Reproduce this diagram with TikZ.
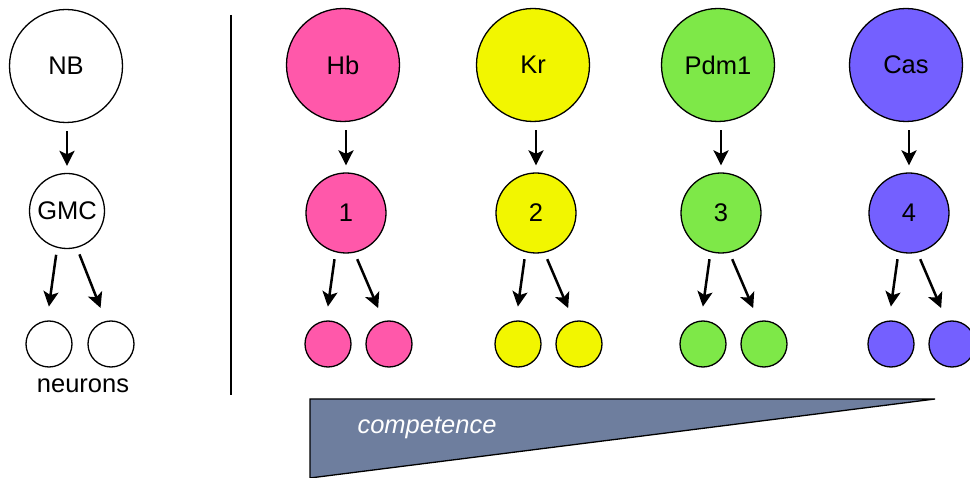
\documentclass[tikz,border=0pt]{standalone}
\usepackage{fontspec}
\setmainfont{Liberation Sans}
\usetikzlibrary{arrows.meta}
\definecolor{hbcol}{RGB}{255,88,170}
\definecolor{krcol}{RGB}{242,246,0}
\definecolor{pdmcol}{RGB}{126,232,72}
\definecolor{cascol}{RGB}{116,96,255}
\definecolor{wedge}{RGB}{110,126,158}
\tikzset{
  labelfont/.style={font=\fontsize{25.5}{28}\selectfont},
  cell/.style={circle,draw=black,line width=1.3pt,inner sep=0pt,labelfont},
  nbcell/.style={cell,minimum size=113pt},
  gmccell/.style={cell,minimum size=80pt},
  neuron/.style={cell,minimum size=46pt},
  lineage/.style={line width=2.5pt,-{Stealth[length=15pt,width=15pt,inset=3.5pt]}},
  down/.style={lineage,shorten <=8pt,shorten >=7pt},
  split/.style={lineage,shorten <=7pt,shorten >=14pt}
}
\begin{document}
\begin{tikzpicture}[x=1pt,y=-1pt]
\useasboundingbox (0,0) rectangle (970,478);
% generic lineage
\node[nbcell] (nb) at (66,66) {NB};
\node[cell,minimum size=75pt] (gmc) at (67,211) {GMC};
\node[neuron] (na) at (49,344) {};
\node[neuron] (nbb) at (111,344) {};
\node[labelfont] (lab) at (83,386) {neurons};
\draw[down] (gmc.north |- nb.south) -- (gmc.north);
\draw[split] (gmc.255) -- (na.95);
\draw[split] (gmc.285) -- (nbb.103);
% separator
\coordinate (s1) at (231,15);
\coordinate (s2) at (231,395);
\draw[line width=1.3pt] (s1) -- (s2);
% temporal series
\foreach \x/\c/\t/\n [count=\i] in {343/hbcol/Hb/1, 533/krcol/Kr/2, 718/pdmcol/Pdm1/3, 906/cascol/Cas/4}{
  \node[nbcell,fill=\c] (tf\i) at (\x,65) {\t};
  \node[gmccell,fill=\c] (g\i) at (\x+3,213) {\n};
  \node[neuron,fill=\c] (l\i) at (\x-15,344) {};
  \node[neuron,fill=\c] (r\i) at (\x+46,344) {};
  \draw[down] (g\i.north |- tf\i.south) -- (g\i.north);
  \draw[split] (g\i.255) -- (l\i.95);
  \draw[split] (g\i.282) -- (r\i.103);
}
% competence wedge
\coordinate (w1) at (310,399);
\coordinate (w2) at (935,399);
\coordinate (w3) at (310,478);
\fill[wedge] (w1) -- (w2) -- (w3) -- cycle;
\draw[line width=1.3pt] (w3) -- (w1) -- (w2) -- (w3);
\node[text=white,labelfont,font=\fontsize{25.5}{28}\selectfont\itshape] (comp) at (427,428) {competence};
\end{tikzpicture}
\end{document}
